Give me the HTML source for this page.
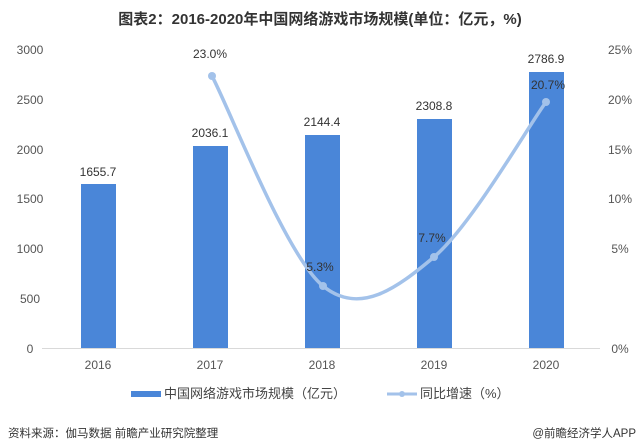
<!DOCTYPE html>
<html><head><meta charset="utf-8"><style>
body{margin:0;background:#fff;}
svg{display:block;font-family:"Liberation Sans","Noto Sans CJK SC",sans-serif;}
</style></head><body>
<svg width="640" height="448" viewBox="0 0 640 448">
<text x="320" y="24" text-anchor="middle" font-size="15" font-weight="bold" fill="#333">图表2：2016-2020年中国网络游戏市场规模(单位：亿元，%)</text>
<g font-size="12" fill="#555">
<text x="30" y="54" text-anchor="middle">3000</text>
<text x="30" y="104" text-anchor="middle">2500</text>
<text x="30" y="154" text-anchor="middle">2000</text>
<text x="30" y="203" text-anchor="middle">1500</text>
<text x="30" y="253" text-anchor="middle">1000</text>
<text x="30" y="303" text-anchor="middle">500</text>
<text x="30" y="353" text-anchor="middle">0</text>
<text x="620" y="54" text-anchor="middle">25%</text>
<text x="620" y="104" text-anchor="middle">20%</text>
<text x="620" y="154" text-anchor="middle">15%</text>
<text x="620" y="203" text-anchor="middle">10%</text>
<text x="620" y="253" text-anchor="middle">5%</text>
<text x="620" y="353" text-anchor="middle">0%</text>
</g>
<line x1="42" y1="348.5" x2="600" y2="348.5" stroke="#d9d9d9" stroke-width="1"/>
<g fill="#4a86d8">
<rect x="81" y="184" width="35" height="164"/>
<rect x="193" y="146" width="35" height="202"/>
<rect x="305" y="135" width="35" height="213"/>
<rect x="417" y="119" width="35" height="229"/>
<rect x="529" y="72" width="35" height="276"/>
</g>
<g font-size="12" fill="#333" text-anchor="middle">
<text x="98" y="176">1655.7</text>
<text x="210" y="137">2036.1</text>
<text x="322" y="126">2144.4</text>
<text x="434" y="110">2308.8</text>
<text x="546" y="63">2786.9</text>
</g>
<path d="M212,76 C230.5,111 286,256 323,286 C360,316 397,288 434,257 C471,226 527,128 546,102" fill="none" stroke="#a3c2ea" stroke-width="3.5"/>
<g fill="#a3c2ea">
<circle cx="212" cy="76" r="4"/><circle cx="323" cy="286" r="4"/><circle cx="434" cy="257" r="4"/><circle cx="546" cy="102" r="4"/>
</g>
<g font-size="12" fill="#333" text-anchor="middle">
<text x="210" y="58">23.0%</text>
<text x="320" y="271">5.3%</text>
<text x="432" y="242">7.7%</text>
<text x="548" y="89">20.7%</text>
</g>
<g font-size="12" fill="#555" text-anchor="middle">
<text x="98" y="369">2016</text>
<text x="210" y="369">2017</text>
<text x="322" y="369">2018</text>
<text x="434" y="369">2019</text>
<text x="546" y="369">2020</text>
</g>
<rect x="131" y="391" width="30" height="6" fill="#4a86d8"/>
<text x="164" y="398" font-size="13" fill="#444">中国网络游戏市场规模（亿元）</text>
<line x1="387" y1="394" x2="417" y2="394" stroke="#a3c2ea" stroke-width="3"/>
<circle cx="402" cy="394" r="3" fill="#a3c2ea"/>
<text x="420" y="398" font-size="13" fill="#444">同比增速（%）</text>
<text x="8" y="437" font-size="11.5" fill="#333">资料来源：伽马数据 前瞻产业研究院整理</text>
<text x="636" y="437" font-size="11.5" fill="#333" text-anchor="end">@前瞻经济学人APP</text>
</svg>
</body></html>
